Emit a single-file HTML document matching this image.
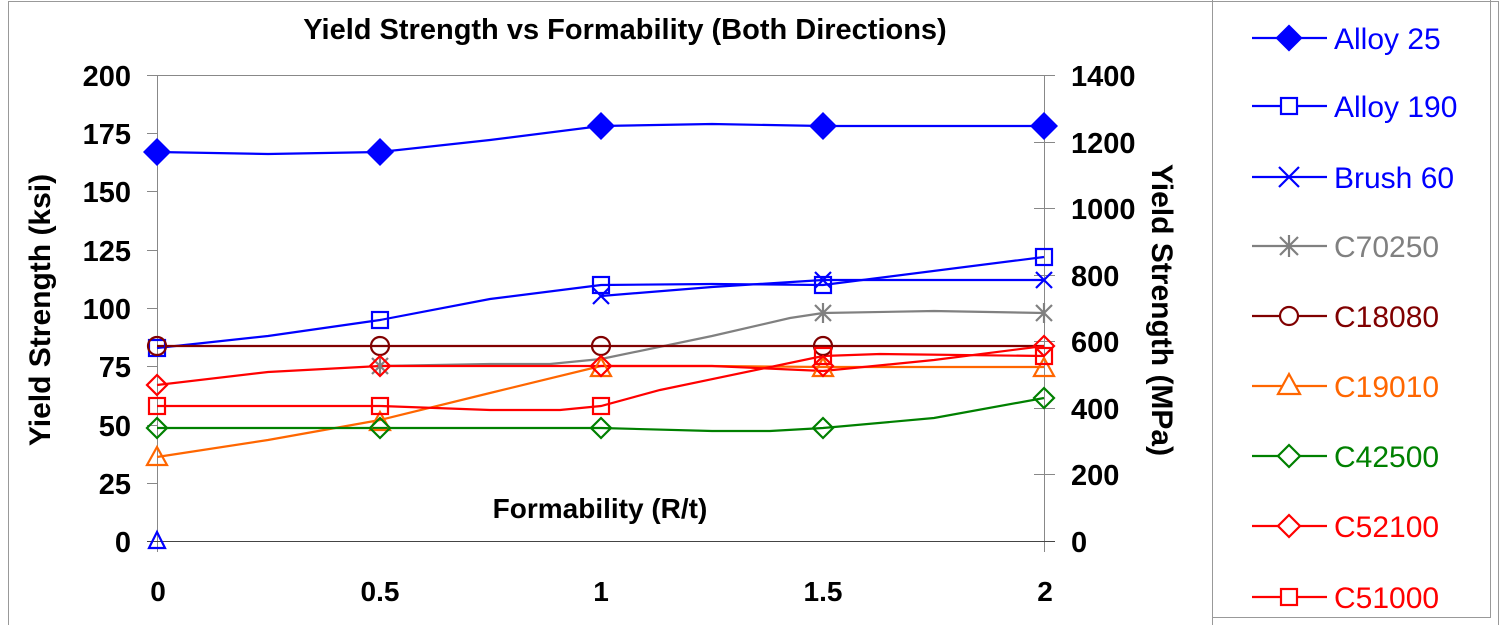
<!DOCTYPE html><html><head><style>body{margin:0;background:#fff}svg{font-family:"Liberation Sans",Arial,sans-serif}</style></head><body>
<svg width="1506" height="625" viewBox="0 0 1506 625">
<rect x="8.5" y="1.5" width="1490" height="630" fill="none" stroke="#999"/>
<line x1="1212.5" y1="0" x2="1212.5" y2="625" stroke="#999"/>
<line x1="1212" y1="617.5" x2="1490" y2="617.5" stroke="#999"/>
<line x1="1490.5" y1="0" x2="1490.5" y2="618" stroke="#999"/>
<text x="625" y="39" font-size="29" font-weight="bold" text-anchor="middle">Yield Strength vs Formability (Both Directions)</text>
<g stroke="#888" stroke-width="1">
<line x1="157.5" y1="75" x2="157.5" y2="552"/>
<line x1="157" y1="75.5" x2="1044" y2="75.5"/>
<line x1="1044.5" y1="75" x2="1044.5" y2="552"/>
<line x1="147" y1="541.5" x2="1055" y2="541.5" stroke="#444"/>
<line x1="147" y1="75.5" x2="157" y2="75.5"/><line x1="147" y1="133.5" x2="157" y2="133.5"/><line x1="147" y1="191.5" x2="157" y2="191.5"/><line x1="147" y1="250.5" x2="157" y2="250.5"/><line x1="147" y1="308.5" x2="157" y2="308.5"/><line x1="147" y1="366.5" x2="157" y2="366.5"/><line x1="147" y1="425.5" x2="157" y2="425.5"/><line x1="147" y1="483.5" x2="157" y2="483.5"/>
<line x1="1034" y1="75.5" x2="1055" y2="75.5"/><line x1="1034" y1="142.5" x2="1055" y2="142.5"/><line x1="1034" y1="208.5" x2="1055" y2="208.5"/><line x1="1034" y1="275.5" x2="1055" y2="275.5"/><line x1="1034" y1="341.5" x2="1055" y2="341.5"/><line x1="1034" y1="408.5" x2="1055" y2="408.5"/><line x1="1034" y1="474.5" x2="1055" y2="474.5"/>
</g>
<g font-size="29" font-weight="bold" text-anchor="end">
<text x="131" y="86">200</text><text x="131" y="144">175</text><text x="131" y="202">150</text><text x="131" y="261">125</text><text x="131" y="319">100</text><text x="131" y="377">75</text><text x="131" y="436">50</text><text x="131" y="494">25</text><text x="131" y="552">0</text>
</g>
<g font-size="29" font-weight="bold" text-anchor="start">
<text x="1071" y="86">1400</text><text x="1071" y="153">1200</text><text x="1071" y="219">1000</text><text x="1071" y="286">800</text><text x="1071" y="352">600</text><text x="1071" y="419">400</text><text x="1071" y="485">200</text><text x="1071" y="552">0</text>
</g>
<g font-size="28" font-weight="bold" text-anchor="middle">
<text x="158" y="601">0</text><text x="380" y="601">0.5</text><text x="601" y="601">1</text><text x="823" y="601">1.5</text><text x="1045" y="601">2</text>
<text x="600" y="518">Formability (R/t)</text>
<text transform="translate(50,310) rotate(-90)" font-size="30">Yield Strength (ksi)</text>
<text transform="translate(1152,310) rotate(90)" font-size="30">Yield Strength (MPa)</text>
</g>
<g fill="none" stroke-width="2.2">
<polyline stroke="#0000ff" points="157,152 268,154 380,152 490,140 601,126 712,124 823,126 1044,126"/>
<polyline stroke="#0000ff" points="157,348 268,336 380,320 490,299 601,285 712,284 823,285 1044,257"/>
<polyline stroke="#0000ff" points="601,296 712,287 823,280 1044,280"/>
<polyline stroke="#808080" points="380,366 490,364 550,364 601,359 712,336 790,318 823,313 934,311 1044,313"/>
<polyline stroke="#800000" points="157,346 1044,346"/>
<polyline stroke="#ff6600" points="157,457 268,440 380,420 490,393 601,366 712,366 823,367 1044,367"/>
<polyline stroke="#008000" points="157,428 601,428 712,431 770,431 823,428 934,418 1044,398"/>
<polyline stroke="#ff0000" points="157,385 268,372 380,366 712,366 823,371 934,360 1044,346"/>
<polyline stroke="#ff0000" points="157,406 380,406 490,410 560,410 601,406 660,390 823,356 880,354 1044,356"/>
</g>
<g fill="#0000ff"><path d="M157 138l14 14-14 14-14-14z"/><path d="M380 138l14 14-14 14-14-14z"/><path d="M601 112l14 14-14 14-14-14z"/><path d="M823 112l14 14-14 14-14-14z"/><path d="M1044 112l14 14-14 14-14-14z"/></g>
<g fill="none" stroke-width="2.2">
<g stroke="#0000ff"><rect x="149" y="340" width="16" height="16"/><rect x="372" y="312" width="16" height="16"/><rect x="593" y="277" width="16" height="16"/><rect x="815" y="277" width="16" height="16"/><rect x="1036" y="249" width="16" height="16"/>
<path d="M593 288l16 16M609 288l-16 16M815 272l16 16M831 272l-16 16M1036 272l16 16M1052 272l-16 16"/>
<path d="M157 532l8 16h-16z"/></g>
<g stroke="#808080"><path d="M372 358l16 16M388 358l-16 16M380 356v20M815 305l16 16M831 305l-16 16M823 303v20M1036 305l16 16M1052 305l-16 16M1044 303v20"/></g>
<g stroke="#800000"><circle cx="157" cy="346" r="9"/><circle cx="380" cy="346" r="9"/><circle cx="601" cy="346" r="9"/><circle cx="823" cy="346" r="9"/></g>
<g stroke="#ff6600"><path d="M157 447l10 18h-20z"/><path d="M380 412l10 18h-20z"/><path d="M601 358l10 18h-20z"/><path d="M823 358l10 18h-20z"/><path d="M1044 358l10 18h-20z"/></g>
<g stroke="#008000"><path d="M157 418l10 10-10 10-10-10z"/><path d="M380 418l10 10-10 10-10-10z"/><path d="M601 418l10 10-10 10-10-10z"/><path d="M823 418l10 10-10 10-10-10z"/><path d="M1044 388l10 10-10 10-10-10z"/></g>
<g stroke="#ff0000"><path d="M157 375l10 10-10 10-10-10z"/><path d="M380 356l10 10-10 10-10-10z"/><path d="M601 356l10 10-10 10-10-10z"/><path d="M823 356l10 10-10 10-10-10z"/><path d="M1044 336l10 10-10 10-10-10z"/>
<rect x="149" y="398" width="16" height="16"/><rect x="372" y="398" width="16" height="16"/><rect x="593" y="398" width="16" height="16"/><rect x="815" y="348" width="16" height="16"/><rect x="1036" y="348" width="16" height="16"/></g>
</g>
<g stroke-width="2.2" fill="none">
<line x1="1252" y1="38" x2="1327" y2="38" stroke="#0000ff"/><path d="M1289 26l12 12-12 12-12-12z" fill="#0000ff" stroke="#0000ff"/>
<line x1="1252" y1="106" x2="1327" y2="106" stroke="#0000ff"/><rect x="1281" y="98" width="16" height="16" stroke="#0000ff" fill="#fff"/>
<line x1="1252" y1="177" x2="1327" y2="177" stroke="#0000ff"/><path d="M1279 167l20 20M1299 167l-20 20" stroke="#0000ff"/>
<line x1="1252" y1="246" x2="1327" y2="246" stroke="#808080"/><path d="M1280 237l18 18M1298 237l-18 18M1289 235v22" stroke="#808080"/>
<line x1="1252" y1="316" x2="1327" y2="316" stroke="#800000"/><circle cx="1289" cy="316" r="9" stroke="#800000" fill="#fff"/>
<line x1="1252" y1="386" x2="1327" y2="386" stroke="#ff6600"/><path d="M1289 374l11 20h-22z" stroke="#ff6600" fill="#fff"/>
<line x1="1252" y1="456" x2="1327" y2="456" stroke="#008000"/><path d="M1289 445l11 11-11 11-11-11z" stroke="#008000" fill="#fff"/>
<line x1="1252" y1="526" x2="1327" y2="526" stroke="#ff0000"/><path d="M1289 515l11 11-11 11-11-11z" stroke="#ff0000" fill="#fff"/>
<line x1="1252" y1="597" x2="1327" y2="597" stroke="#ff0000"/><rect x="1281" y="589" width="16" height="16" stroke="#ff0000" fill="#fff"/>
</g>
<g font-size="30">
<text x="1334" y="49" fill="#0000ff">Alloy 25</text>
<text x="1334" y="117" fill="#0000ff">Alloy 190</text>
<text x="1334" y="188" fill="#0000ff">Brush 60</text>
<text x="1334" y="257" fill="#808080">C70250</text>
<text x="1334" y="327" fill="#800000">C18080</text>
<text x="1334" y="397" fill="#ff6600">C19010</text>
<text x="1334" y="467" fill="#008000">C42500</text>
<text x="1334" y="537" fill="#ff0000">C52100</text>
<text x="1334" y="608" fill="#ff0000">C51000</text>
</g>
</svg></body></html>
